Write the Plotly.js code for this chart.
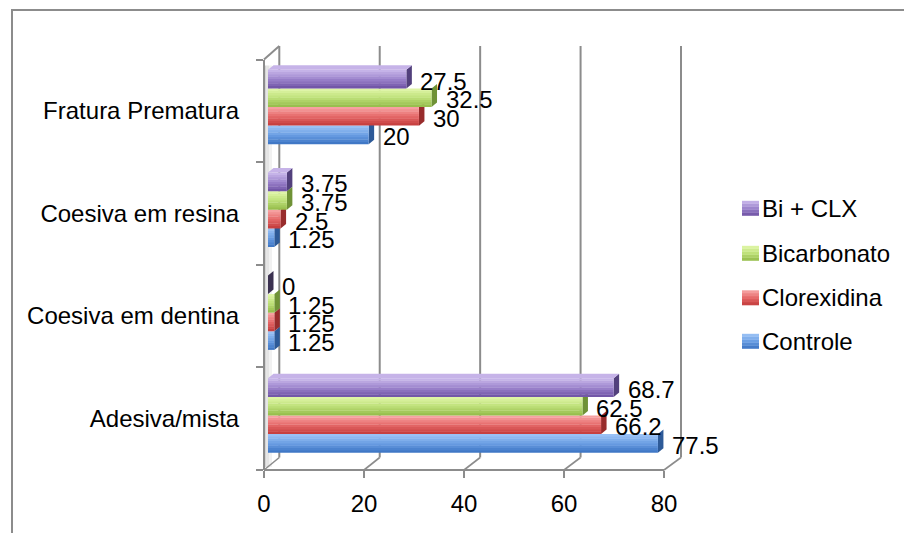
<!DOCTYPE html>
<html>
<head>
<meta charset="utf-8">
<script src="https://cdn.plot.ly/plotly-3.0.1.min.js"></script>
<style>
  html, body { margin: 0; padding: 0; background: #ffffff; }
  #chart { width: 904px; height: 533px; }
</style>
</head>
<body>
<div id="chart"></div>
<script>
// Failure modes (%) per treatment group
const categories = ['Adesiva/mista', 'Coesiva em dentina', 'Coesiva em resina', 'Fratura Prematura'];
const seriesNames = ['Controle', 'Clorexidina', 'Bicarbonato', 'Bi + CLX'];
const controle    = [77.5, 1.25, 1.25, 20];
const clorexidina = [66.2, 1.25, 2.5, 30];
const bicarbonato = [62.5, 1.25, 3.75, 32.5];
const biClx       = [68.7, 0, 3.75, 27.5];
const tickValues  = [0, 20, 40, 60, 80];

const seriesValues = [controle, clorexidina, bicarbonato, biClx];

// ---- geometry of the pseudo-3D box (pixels) ----
const W = 904, H = 533;
const px = v => v / W;
const py = v => 1 - v / H;
const FRONT = { x0: 264, x1: 664, yTop: 59.5, yBot: 470 };
const BACK  = { x0: 279.3, x1: 681, yTop: 46, yBot: 457.5 };
const BARS  = { x0: 268, x1: 670.5, yTop: 55.6, yBot: 466.9 };
const AX_MIN = 0, AX_MAX = 80;
const BW = 0.181;                 // bar thickness, category units
const DEPTH = { dx: 5.5, dy: 4.5 }; // bar depth faces, pixels
const STRIPES = 8;                // vertical shading steps per bar
const pxPerCat = (BARS.yBot - BARS.yTop) / categories.length;
const pxPerUnit = (BARS.x1 - BARS.x0) / (AX_MAX - AX_MIN);

const FONT = 'Liberation Sans, Arial, sans-serif';
const GRID = '#8c8c8c';

const palette = [
  { top: '#9fc6f7', mid: '#6b9fe4', bot: '#3a72c2', side: '#2d5a98', cap: '#a8cbf5' },
  { top: '#f8a8a8', mid: '#e66a6a', bot: '#c23a3a', side: '#982c2c', cap: '#f6b0b0' },
  { top: '#e2f7ab', mid: '#bfe17a', bot: '#92ba48', side: '#6f9236', cap: '#e6f7b8' },
  { top: '#cbb9ec', mid: '#9d85cd', bot: '#6d50a3', side: '#52407c', cap: '#c6b3e8' }
];

function hexToRgb(h) {
  const n = parseInt(h.slice(1), 16);
  return [(n >> 16) & 255, (n >> 8) & 255, n & 255];
}
function mix(a, b, t) {
  const A = hexToRgb(a), B = hexToRgb(b);
  const c = A.map((v, i) => Math.round(v + (B[i] - v) * t));
  return 'rgb(' + c.join(',') + ')';
}
// u: 0 at the bottom edge, 1 at the top edge
function shade(p, u) {
  return u < 0.5 ? mix(p.bot, p.mid, u * 2) : mix(p.mid, p.top, (u - 0.5) * 2);
}

const catIdx = categories.map((c, i) => i);
const traces = [];
const shapes = [];
const annotations = [];

// ---- back wall, floor and left wall of the box ----
const wallLine = { color: GRID, width: 2 };
// left wall shading
[['#d4d4d4', 0, 2.5], ['#e4e4e4', 2.5, 5], ['#f1f1f1', 5, 8]].forEach(([c, a, b]) => {
  shapes.push({
    type: 'path', xref: 'paper', yref: 'paper', layer: 'below',
    path: `M${px(FRONT.x0 + a)},${py(FRONT.yBot - 3)} L${px(FRONT.x0 + b)},${py(FRONT.yBot - 3)} ` +
          `L${px(FRONT.x0 + b)},${py(FRONT.yTop + 6)} L${px(FRONT.x0 + a)},${py(FRONT.yTop + 6)} Z`,
    fillcolor: c, line: { width: 0 }
  });
});
tickValues.forEach(t => {
  const bx = BACK.x0 + (t - AX_MIN) * (BACK.x1 - BACK.x0) / (AX_MAX - AX_MIN);
  const fx = FRONT.x0 + (t - AX_MIN) * (FRONT.x1 - FRONT.x0) / (AX_MAX - AX_MIN);
  shapes.push({ type: 'line', xref: 'paper', yref: 'paper', layer: 'below',
    x0: px(bx), x1: px(bx), y0: py(BACK.yTop), y1: py(BACK.yBot), line: wallLine });
  shapes.push({ type: 'line', xref: 'paper', yref: 'paper', layer: 'below',
    x0: px(fx), x1: px(bx), y0: py(FRONT.yBot), y1: py(BACK.yBot), line: { color: GRID, width: 1.6 } });
});
shapes.push({ type: 'line', xref: 'paper', yref: 'paper', layer: 'below',
  x0: px(FRONT.x0), x1: px(BACK.x0), y0: py(FRONT.yTop), y1: py(BACK.yTop), line: wallLine });

// outer chart frame
shapes.push({ type: 'rect', xref: 'paper', yref: 'paper', layer: 'below',
  x0: px(12), x1: px(W + 6), y0: py(10), y1: py(H + 6), line: { color: GRID, width: 2 } });

// ---- bars: shaded front faces built from thin stacked strips ----
seriesValues.forEach((vals, s) => {
  const p = palette[s];
  const barBottom = (s - 2) * BW;
  for (let j = 0; j < STRIPES; j++) {
    const u = (j + 0.5) / STRIPES;
    const last = j === STRIPES - 1;
    traces.push({
      type: 'bar', orientation: 'h', xaxis: 'x', yaxis: 'y',
      x: vals, y: catIdx,
      offset: barBottom + j * BW / STRIPES,
      width: BW / STRIPES + (last ? 0 : 0.004),
      marker: { color: shade(p, u), line: { width: 0 } },
      showlegend: false, hoverinfo: 'skip', cliponaxis: false
    });
  }
  // right-hand depth face of each bar
  const hp = BW / 2 * pxPerCat;
  vals.forEach((v, i) => {
    const yc = i + (s - 1.5) * BW;
    shapes.push({
      type: 'path', xref: 'x', yref: 'y', layer: 'below',
      xsizemode: 'pixel', ysizemode: 'pixel', xanchor: v, yanchor: yc,
      path: `M0,${hp} L${DEPTH.dx},${hp + DEPTH.dy} L${DEPTH.dx},${-hp + DEPTH.dy} L0,${-hp} Z`,
      fillcolor: v === 0 ? '#3b3150' : p.side, line: { width: 0 }
    });
    // top face is only visible on the uppermost bar of a group
    if (s === seriesValues.length - 1) {
      const dxD = DEPTH.dx / pxPerUnit;
      shapes.push({
        type: 'path', xref: 'x', yref: 'y', layer: 'below',
        ysizemode: 'pixel', yanchor: yc,
        path: `M0,${hp} L${v},${hp} L${v + dxD},${hp + DEPTH.dy} L${dxD},${hp + DEPTH.dy} Z`,
        fillcolor: p.cap, line: { width: 0 }
      });
    }
    annotations.push({
      xref: 'x', yref: 'y', x: v, y: yc,
      xanchor: 'left', yanchor: 'middle', xshift: 12, yshift: -2,
      text: String(v), showarrow: false,
      font: { family: FONT, size: 24, color: '#000000' }
    });
  });
});

// front axes carrier (no visible marks)
traces.push({
  type: 'scatter', mode: 'markers', xaxis: 'x2', yaxis: 'y2',
  x: categories.map(() => null), y: categories,
  showlegend: false, hoverinfo: 'skip'
});

// ---- legend ----
const legendRows = [208.3, 253.3, 297.8, 341.3];
const legendOrder = [3, 2, 1, 0];
legendOrder.forEach((s, r) => {
  const p = palette[s];
  const yc = legendRows[r];
  const sq = { x0: 742, x1: 759, h: 15 };
  const n = 5;
  for (let j = 0; j < n; j++) {
    const u = (j + 0.5) / n;
    const y0 = yc + sq.h / 2 - j * sq.h / n;
    const y1 = y0 - sq.h / n - (j === n - 1 ? 0 : 0.4);
    shapes.push({ type: 'rect', xref: 'paper', yref: 'paper',
      x0: px(sq.x0), x1: px(sq.x1), y0: py(y0), y1: py(y1),
      fillcolor: shade(p, u), line: { width: 0 } });
  }
  annotations.push({
    xref: 'paper', yref: 'paper', x: px(760), y: py(yc),
    xanchor: 'left', yanchor: 'middle', showarrow: false,
    text: seriesNames[s],
    font: { family: FONT, size: 24, color: '#000000' }
  });
});

const layout = {
  width: W, height: H,
  margin: { l: 0, r: 0, t: 0, b: 0, pad: 0 },
  paper_bgcolor: '#ffffff', plot_bgcolor: 'rgba(0,0,0,0)',
  showlegend: false, hovermode: false,
  barmode: 'overlay',
  font: { family: FONT, size: 24, color: '#000000' },
  xaxis: {
    domain: [px(BARS.x0), px(BARS.x1)], range: [AX_MIN, AX_MAX],
    visible: false, anchor: 'y', fixedrange: true
  },
  yaxis: {
    domain: [py(BARS.yBot), py(BARS.yTop)], range: [-0.5, categories.length - 0.5],
    visible: false, anchor: 'x', fixedrange: true
  },
  xaxis2: {
    domain: [px(FRONT.x0), px(FRONT.x1)], range: [AX_MIN, AX_MAX],
    anchor: 'free', position: py(FRONT.yBot),
    tickmode: 'array', tickvals: tickValues,
    showgrid: false, zeroline: false,
    showline: true, linecolor: GRID, linewidth: 2,
    ticks: 'outside', ticklen: 7, tickwidth: 2, tickcolor: GRID,
    ticklabelstandoff: 5,
    tickfont: { family: FONT, size: 24, color: '#000000' }, fixedrange: true
  },
  yaxis2: {
    domain: [py(FRONT.yBot), py(FRONT.yTop)], range: [-0.5, categories.length - 0.5],
    type: 'category', categoryorder: 'array', categoryarray: categories,
    anchor: 'free', position: px(FRONT.x0),
    tickson: 'boundaries', ticks: 'outside', ticklen: 7, tickwidth: 2, tickcolor: GRID,
    showgrid: false, zeroline: false,
    showline: true, linecolor: GRID, linewidth: 2,
    ticklabelstandoff: 19,
    tickfont: { family: FONT, size: 24, color: '#000000' }, fixedrange: true
  },
  shapes: shapes,
  annotations: annotations
};

Plotly.newPlot('chart', traces, layout, { displayModeBar: false, staticPlot: true });
</script>
</body>
</html>
